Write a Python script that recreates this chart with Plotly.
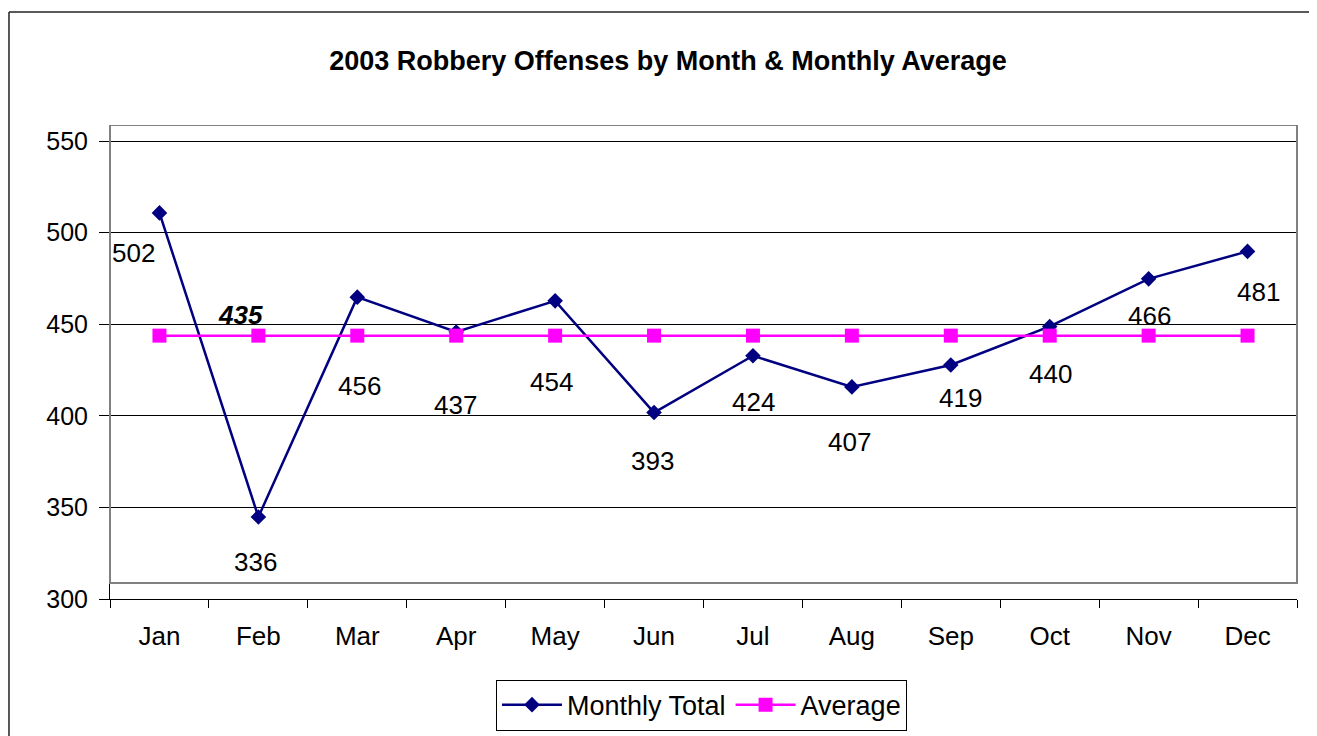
import plotly.graph_objects as go

# 2003 robbery offenses
months = ["Jan", "Feb", "Mar", "Apr", "May", "Jun",
          "Jul", "Aug", "Sep", "Oct", "Nov", "Dec"]
monthly_total = [502, 336, 456, 437, 454, 393, 424, 407, 419, 440, 466, 481]
average = [435, 435, 435, 435, 435, 435, 435, 435, 435, 435, 435, 435]

# value-axis tick labels
tick_values = [300, 350, 400, 450, 500, 550]
tick_labels = ["300", "350", "400", "450", "500", "550"]

# in the original the value axis is drawn about 9 units below the plot area
AXIS_OFFSET = 8.8

# pixel nudges of the data labels (x, y), as they were placed in the original
label_nudge = [(-26, 40), (-3, 45), (2, 89), (-1, 73), (-4, 81), (-2, 48),
               (1, 46), (-2, 55), (10, 33), (1, 48), (1, 37), (11, 41)]
avg_label_nudge = (-18, -21)

FONT = "Liberation Sans, Arial, sans-serif"
NAVY = "#000080"
MAGENTA = "#FF00FF"

fig = go.Figure()

fig.add_trace(go.Scatter(
    x=months, y=monthly_total, name="Monthly Total",
    mode="lines+markers",
    line=dict(color=NAVY, width=2.5),
    marker=dict(symbol="diamond", size=12, color=NAVY),
))
fig.add_trace(go.Scatter(
    x=months, y=average, name="Average",
    mode="lines+markers",
    line=dict(color=MAGENTA, width=2.5),
    marker=dict(symbol="square", size=14, color=MAGENTA),
))

# data labels
for m, v, (dx, dy) in zip(months, monthly_total, label_nudge):
    fig.add_annotation(x=m, y=v, text=str(v), showarrow=False,
                       xshift=dx, yshift=-dy,
                       font=dict(family=FONT, size=26, color="black"))
fig.add_annotation(x=months[1], y=average[1], text="<b><i>%d</i></b>" % average[1],
                   showarrow=False, xshift=avg_label_nudge[0], yshift=-avg_label_nudge[1],
                   font=dict(family=FONT, size=26, color="black"))

# plot area border (grey box) spanning the data range
fig.add_shape(type="rect", xref="x domain", yref="y",
              x0=0, x1=1, y0=tick_values[0], y1=tick_values[-1],
              line=dict(color="#808080", width=2), layer="above")

# outer chart frame (top and left edges visible)
fig.add_shape(type="line", xref="paper", yref="paper",
              x0=-0.0851, x1=1.0109, y0=1.2386, y1=1.2386,
              line=dict(color="#222222", width=1.5))
fig.add_shape(type="line", xref="paper", yref="paper",
              x0=-0.0851, x1=-0.0851, y0=1.2386, y1=-0.35,
              line=dict(color="#222222", width=1.5))

# the page adds an 8px body margin, so margins are trimmed by that much
fig.update_layout(
    width=1317, height=736,
    margin=dict(l=102, r=28, t=117, b=145, autoexpand=False),
    paper_bgcolor="white", plot_bgcolor="white",
    font=dict(family=FONT, size=25, color="black"),
    title=dict(text="<b>2003 Robbery Offenses by Month & Monthly Average</b>",
               xref="container", x=0.5011, xanchor="center",
               y=0.928, yanchor="middle",
               font=dict(family=FONT, size=27, color="black")),
    showlegend=True,
    legend=dict(orientation="h", x=0.4983, xanchor="center",
                y=-0.17, yanchor="top", itemwidth=60,
                bordercolor="black", borderwidth=1, bgcolor="white",
                font=dict(family=FONT, size=27, color="black")),
)

fig.update_xaxes(
    type="category", tickson="boundaries", automargin=False,
    range=[-0.5, len(months) - 0.5],
    ticks="outside", ticklen=8, tickcolor="black", tickwidth=1,
    showline=True, linecolor="black", linewidth=1,
    showgrid=False, ticklabelstandoff=14,
    tickfont=dict(family=FONT, size=26, color="black"),
)
fig.update_yaxes(
    range=[tick_values[0] - AXIS_OFFSET, tick_values[-1]], automargin=False,
    tickvals=[v - AXIS_OFFSET for v in tick_values], ticktext=tick_labels,
    ticks="outside", ticklen=10, tickcolor="black", tickwidth=1,
    showline=True, linecolor="black", linewidth=1,
    showgrid=True, gridcolor="black", gridwidth=1,
    zeroline=False, ticklabelstandoff=6,
    tickfont=dict(family=FONT, size=25, color="black"),
)

fig.write_html("out.html")
